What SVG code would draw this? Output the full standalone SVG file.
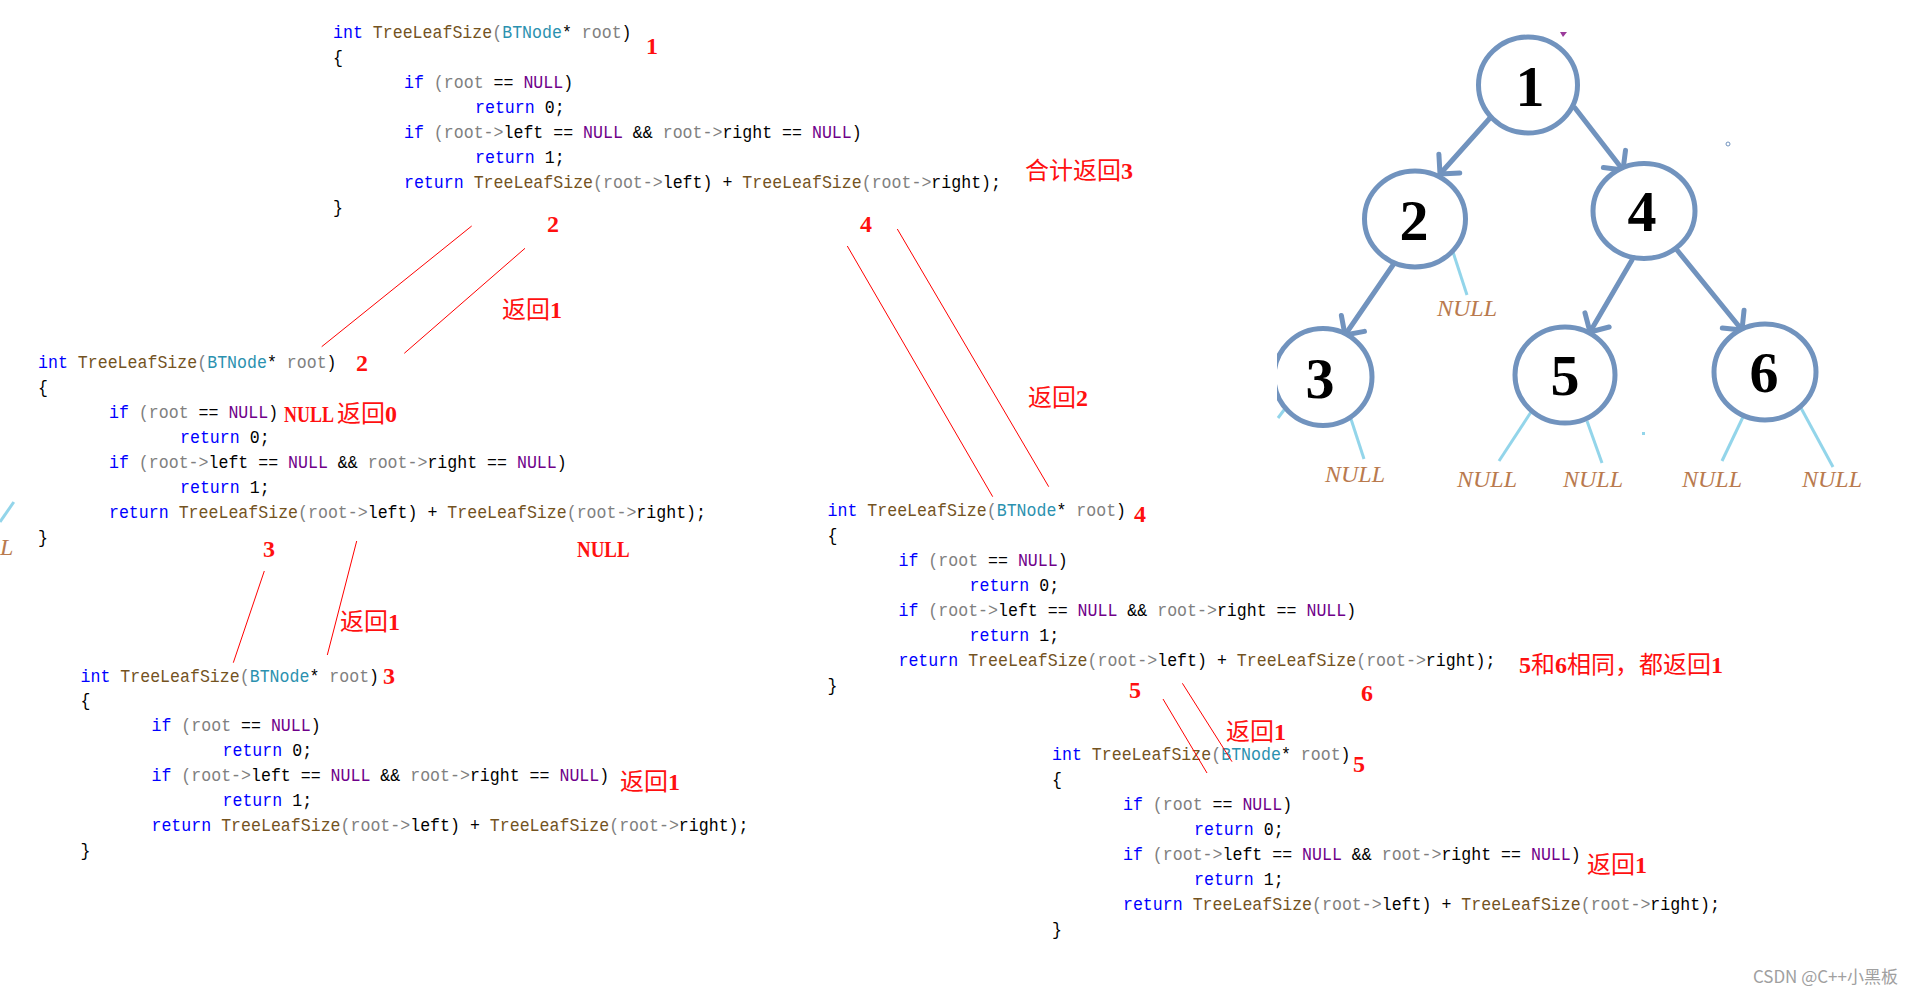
<svg xmlns="http://www.w3.org/2000/svg" width="1914" height="994" viewBox="0 0 1914 994">
<style>
.code text{font-family:"Liberation Mono","DejaVu Sans Mono",monospace;font-size:19px;fill:#000;white-space:pre}
.k{fill:#0000ff}.f{fill:#74531f}.t{fill:#2b91af}.p{fill:#808080}.m{fill:#6f008a}
.red{font-family:"Liberation Serif","Noto Sans CJK SC",serif;font-size:24px;fill:#ff1010;font-weight:bold}
.cj{font-weight:normal}
.rl{stroke:#ff0000;stroke-width:1;fill:none}
.ring{fill:#fff;stroke:#7193be;stroke-width:5}
.dg{font-family:"Liberation Serif",serif;font-size:58px;font-weight:bold;fill:#000;text-anchor:middle}
.edge{stroke:#7193be;stroke-width:5;fill:none;stroke-linecap:round}
.nl{stroke:#93d5ea;stroke-width:3;fill:none}
.nt{font-family:"Liberation Serif",serif;font-style:italic;font-size:24px;fill:#b97a4e}
.wm{font-family:"Noto Sans CJK SC","Liberation Sans",sans-serif;font-size:17px;fill:#a0a0a0}
</style>
<defs>
<marker id="arr" markerUnits="userSpaceOnUse" markerWidth="40" markerHeight="40" viewBox="-20 -20 40 40" refX="0" refY="0" orient="auto" overflow="visible">
<path d="M-14,-14 L0,0 L-14,14" fill="none" stroke="#7193be" stroke-width="5" stroke-linecap="round" stroke-linejoin="round"/>
</marker>
<clipPath id="clip3"><rect x="1277" y="0" width="637" height="994"/></clipPath>
</defs>
<rect width="1914" height="994" fill="#fff"/>

<g id="call1" class="code" xml:space="preserve" transform="translate(333,38) scale(0.873,1)">
<text y="0"><tspan class="k">int</tspan> <tspan class="f">TreeLeafSize</tspan><tspan class="p">(</tspan><tspan class="t">BTNode</tspan>* <tspan class="p">root</tspan>)</text>
<text y="25">{</text>
<text x="81.3" y="50"><tspan class="k">if</tspan> <tspan class="p">(root</tspan> == <tspan class="m">NULL</tspan>)</text>
<text x="162.7" y="75"><tspan class="k">return</tspan> 0;</text>
<text x="81.3" y="100"><tspan class="k">if</tspan> <tspan class="p">(root-&gt;</tspan>left == <tspan class="m">NULL</tspan> &amp;&amp; <tspan class="p">root-&gt;</tspan>right == <tspan class="m">NULL</tspan>)</text>
<text x="162.7" y="125"><tspan class="k">return</tspan> 1;</text>
<text x="81.3" y="150"><tspan class="k">return</tspan> <tspan class="f">TreeLeafSize</tspan><tspan class="p">(root-&gt;</tspan>left) + <tspan class="f">TreeLeafSize</tspan><tspan class="p">(root-&gt;</tspan>right);</text>
<text y="175">}</text>
</g>

<g id="call2" class="code" xml:space="preserve" transform="translate(38,368) scale(0.873,1)">
<text y="0"><tspan class="k">int</tspan> <tspan class="f">TreeLeafSize</tspan><tspan class="p">(</tspan><tspan class="t">BTNode</tspan>* <tspan class="p">root</tspan>)</text>
<text y="25">{</text>
<text x="81.3" y="50"><tspan class="k">if</tspan> <tspan class="p">(root</tspan> == <tspan class="m">NULL</tspan>)</text>
<text x="162.7" y="75"><tspan class="k">return</tspan> 0;</text>
<text x="81.3" y="100"><tspan class="k">if</tspan> <tspan class="p">(root-&gt;</tspan>left == <tspan class="m">NULL</tspan> &amp;&amp; <tspan class="p">root-&gt;</tspan>right == <tspan class="m">NULL</tspan>)</text>
<text x="162.7" y="125"><tspan class="k">return</tspan> 1;</text>
<text x="81.3" y="150"><tspan class="k">return</tspan> <tspan class="f">TreeLeafSize</tspan><tspan class="p">(root-&gt;</tspan>left) + <tspan class="f">TreeLeafSize</tspan><tspan class="p">(root-&gt;</tspan>right);</text>
<text y="175">}</text>
</g>

<g id="call3" class="code" xml:space="preserve" transform="translate(80.5,681.5) scale(0.873,1)">
<text y="0"><tspan class="k">int</tspan> <tspan class="f">TreeLeafSize</tspan><tspan class="p">(</tspan><tspan class="t">BTNode</tspan>* <tspan class="p">root</tspan>)</text>
<text y="25">{</text>
<text x="81.3" y="50"><tspan class="k">if</tspan> <tspan class="p">(root</tspan> == <tspan class="m">NULL</tspan>)</text>
<text x="162.7" y="75"><tspan class="k">return</tspan> 0;</text>
<text x="81.3" y="100"><tspan class="k">if</tspan> <tspan class="p">(root-&gt;</tspan>left == <tspan class="m">NULL</tspan> &amp;&amp; <tspan class="p">root-&gt;</tspan>right == <tspan class="m">NULL</tspan>)</text>
<text x="162.7" y="125"><tspan class="k">return</tspan> 1;</text>
<text x="81.3" y="150"><tspan class="k">return</tspan> <tspan class="f">TreeLeafSize</tspan><tspan class="p">(root-&gt;</tspan>left) + <tspan class="f">TreeLeafSize</tspan><tspan class="p">(root-&gt;</tspan>right);</text>
<text y="175">}</text>
</g>

<g id="call4" class="code" xml:space="preserve" transform="translate(827.5,516) scale(0.873,1)">
<text y="0"><tspan class="k">int</tspan> <tspan class="f">TreeLeafSize</tspan><tspan class="p">(</tspan><tspan class="t">BTNode</tspan>* <tspan class="p">root</tspan>)</text>
<text y="25">{</text>
<text x="81.3" y="50"><tspan class="k">if</tspan> <tspan class="p">(root</tspan> == <tspan class="m">NULL</tspan>)</text>
<text x="162.7" y="75"><tspan class="k">return</tspan> 0;</text>
<text x="81.3" y="100"><tspan class="k">if</tspan> <tspan class="p">(root-&gt;</tspan>left == <tspan class="m">NULL</tspan> &amp;&amp; <tspan class="p">root-&gt;</tspan>right == <tspan class="m">NULL</tspan>)</text>
<text x="162.7" y="125"><tspan class="k">return</tspan> 1;</text>
<text x="81.3" y="150"><tspan class="k">return</tspan> <tspan class="f">TreeLeafSize</tspan><tspan class="p">(root-&gt;</tspan>left) + <tspan class="f">TreeLeafSize</tspan><tspan class="p">(root-&gt;</tspan>right);</text>
<text y="175">}</text>
</g>

<g id="call5" class="code" xml:space="preserve" transform="translate(1052,760) scale(0.873,1)">
<text y="0"><tspan class="k">int</tspan> <tspan class="f">TreeLeafSize</tspan><tspan class="p">(</tspan><tspan class="t">BTNode</tspan>* <tspan class="p">root</tspan>)</text>
<text y="25">{</text>
<text x="81.3" y="50"><tspan class="k">if</tspan> <tspan class="p">(root</tspan> == <tspan class="m">NULL</tspan>)</text>
<text x="162.7" y="75"><tspan class="k">return</tspan> 0;</text>
<text x="81.3" y="100"><tspan class="k">if</tspan> <tspan class="p">(root-&gt;</tspan>left == <tspan class="m">NULL</tspan> &amp;&amp; <tspan class="p">root-&gt;</tspan>right == <tspan class="m">NULL</tspan>)</text>
<text x="162.7" y="125"><tspan class="k">return</tspan> 1;</text>
<text x="81.3" y="150"><tspan class="k">return</tspan> <tspan class="f">TreeLeafSize</tspan><tspan class="p">(root-&gt;</tspan>left) + <tspan class="f">TreeLeafSize</tspan><tspan class="p">(root-&gt;</tspan>right);</text>
<text y="175">}</text>
</g>

<g id="connectors">
<g id="call-lines">
<line class="rl" x1="471.7" y1="226" x2="321.7" y2="346.7"/>
<line class="rl" x1="525" y1="248.3" x2="404.3" y2="353.3"/>
<line class="rl" x1="847.3" y1="246" x2="992.7" y2="496.7"/>
<line class="rl" x1="897.3" y1="229" x2="1048.7" y2="486.7"/>
<line class="rl" x1="264.3" y1="571" x2="233.3" y2="662.7"/>
<line class="rl" x1="356.7" y1="541" x2="327.3" y2="655"/>
<line class="rl" x1="1163" y1="699" x2="1207" y2="773"/>
<line class="rl" x1="1182.4" y1="683.3" x2="1232" y2="761.7"/>
</g>
<g id="tree-edges">
<line class="edge" x1="1490" y1="118" x2="1440" y2="174" marker-end="url(#arr)"/>
<line class="edge" x1="1575" y1="108" x2="1623" y2="170" marker-end="url(#arr)"/>
<line class="edge" x1="1393" y1="265" x2="1345" y2="335" marker-end="url(#arr)"/>
<line class="edge" x1="1632" y1="260" x2="1590" y2="332" marker-end="url(#arr)"/>
<line class="edge" x1="1677" y1="250" x2="1742" y2="330" marker-end="url(#arr)"/>
</g>
<g id="null-lines">
<line class="nl" x1="1453" y1="252" x2="1467" y2="295"/>
<line class="nl" x1="1350" y1="416" x2="1364" y2="459"/>
<line class="nl" x1="1287" y1="406" x2="1278" y2="418"/>
<line class="nl" x1="1533" y1="409" x2="1499" y2="461"/>
<line class="nl" x1="1587" y1="421" x2="1602" y2="463"/>
<line class="nl" x1="1743" y1="417" x2="1722" y2="461"/>
<line class="nl" x1="1801" y1="408" x2="1833" y2="467"/>
<line class="nl" x1="13.8" y1="502" x2="0" y2="522"/>
</g>
</g>

<g id="node1"><ellipse class="ring" cx="1528" cy="85" rx="49.5" ry="48"/><text class="dg" x="1530" y="106">1</text></g>
<g id="node2"><ellipse class="ring" cx="1415" cy="219" rx="50.5" ry="48"/><text class="dg" x="1414" y="240">2</text></g>
<g id="node4"><ellipse class="ring" cx="1644" cy="211" rx="51" ry="47.5"/><text class="dg" x="1642" y="231">4</text></g>
<g id="node3" clip-path="url(#clip3)"><ellipse class="ring" cx="1323" cy="377" rx="49" ry="48.5"/><text class="dg" x="1320" y="398">3</text></g>
<g id="node5"><ellipse class="ring" cx="1565" cy="375" rx="50" ry="48"/><text class="dg" x="1565" y="395">5</text></g>
<g id="node6"><ellipse class="ring" cx="1765" cy="372" rx="51" ry="48"/><text class="dg" x="1764" y="392">6</text></g>

<g id="null-labels">
<text class="nt" x="1437" y="316">NULL</text>
<text class="nt" x="1325" y="482">NULL</text>
<text class="nt" x="1457" y="487">NULL</text>
<text class="nt" x="1563" y="487">NULL</text>
<text class="nt" x="1682" y="487">NULL</text>
<text class="nt" x="1802" y="487">NULL</text>
<text class="nt" x="0" y="555">L</text>
</g>

<g id="annotations">
<text class="red" x="646" y="54">1</text>
<text class="red" x="1025" y="179"><tspan class="cj">合计返回</tspan>3</text>
<text class="red" x="547" y="232">2</text>
<text class="red" x="860" y="232">4</text>
<text class="red" x="502" y="318"><tspan class="cj">返回</tspan>1</text>
<text class="red" x="356" y="371">2</text>
<text class="red" transform="translate(284,422) scale(0.75,1)">NULL</text>
<text class="red" x="337" y="422"><tspan class="cj">返回</tspan>0</text>
<text class="red" x="1028" y="406"><tspan class="cj">返回</tspan>2</text>
<text class="red" x="263" y="557">3</text>
<text class="red" transform="translate(577,557) scale(0.79,1)">NULL</text>
<text class="red" x="340" y="630"><tspan class="cj">返回</tspan>1</text>
<text class="red" x="383" y="684">3</text>
<text class="red" x="620" y="790"><tspan class="cj">返回</tspan>1</text>
<text class="red" x="1134" y="522">4</text>
<text class="red" x="1519" y="673">5<tspan class="cj">和</tspan>6<tspan class="cj">相同，都返回</tspan>1</text>
<text class="red" x="1129" y="698">5</text>
<text class="red" x="1361" y="701">6</text>
<text class="red" x="1226" y="740"><tspan class="cj">返回</tspan>1</text>
<text class="red" x="1353" y="772">5</text>
<text class="red" x="1587" y="873"><tspan class="cj">返回</tspan>1</text>
</g>

<g id="specks">
<path d="M1560,32 L1567,32 L1563,37 Z" fill="#9b3b9b"/>
<circle cx="1728" cy="144" r="2" fill="none" stroke="#7193be" stroke-width="1"/>
<rect x="1642" y="432" width="3" height="3" fill="#93d5ea"/>
</g>

<text class="wm" x="1898" y="983" text-anchor="end">CSDN @C++小黑板</text>
</svg>
